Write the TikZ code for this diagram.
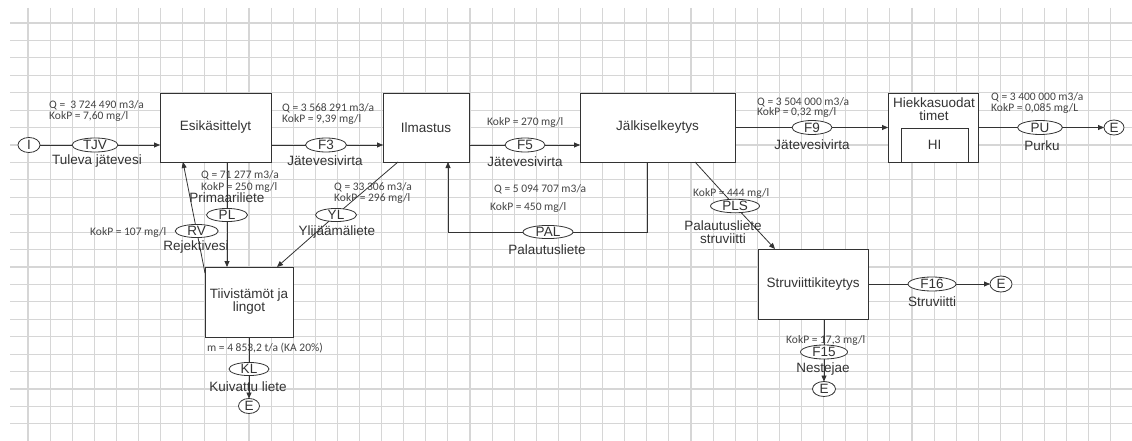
\documentclass[tikz,border=0pt]{standalone}
\usepackage{fontspec}
\setmainfont{Liberation Sans}
\newfontfamily\smallf{Carlito}
\usetikzlibrary{shapes.geometric,arrows.meta}
\definecolor{gridc}{HTML}{D6D6D6}
\definecolor{linec}{HTML}{333333}
\definecolor{textc}{HTML}{333333}
\definecolor{stextc}{HTML}{444444}
\tikzset{
  boxn/.style={draw=linec,line width=0.85pt,fill=white,inner sep=0pt,outer sep=0pt,
    font=\fontsize{13.5}{13.5}\selectfont,text=textc,align=center},
  oval/.style={ellipse,draw=linec,line width=0.8pt,fill=white,inner sep=0pt,outer sep=0pt,
    font=\fontsize{13.5}{13.5}\selectfont,text=textc},
  lab/.style={inner sep=0pt,font=\fontsize{13.5}{13.5}\selectfont,text=textc,align=center},
  slab/.style={inner sep=0pt,anchor=west,font=\smallf\fontsize{11.5}{11.5}\selectfont,text=stextc},
  conn/.style={draw=linec,line width=0.8pt},
  arr/.style={conn,-{Triangle[length=6pt,width=5pt]}},
}
\begin{document}
\begin{tikzpicture}[x=1pt,y=-1pt]
\useasboundingbox (0,0) rectangle (1132,441);
\fill[white] (0,0) rectangle (1132,441);
% grid
\foreach \k in {0,...,49} \draw[gridc,line width=1.1pt] ({28+22.1*\k},8) -- ({28+22.1*\k},441);
\foreach \k in {0,...,23} \draw[gridc,line width=1.1pt] (10,{23+17.43*\k}) -- (1132,{23+17.43*\k});

% boxes
\node[boxn,minimum width=111pt,minimum height=69pt] (esik) at (215.5,127.5) {Esikäsittelyt};
\node[boxn,minimum width=86pt,minimum height=69pt] (ilm) at (426,127.5) {Ilmastus};
\node[boxn,minimum width=155pt,minimum height=69pt] (jalk) at (657.5,127.5) {Jälkiselkeytys};
\node[boxn,minimum width=90pt,minimum height=69pt] (hiek) at (933,127.5) {};
\node[lab] (hiekt) at (934,109.5) {Hiekkasuodat\\[-0.5pt]timet};
\node[boxn,minimum width=67pt,minimum height=34pt] (hi) at (934.5,145) {HI};
\node[boxn,minimum width=88pt,minimum height=70pt] (tiiv) at (249,302) {Tiivistämöt ja\\[-0.5pt]lingot};
\node[boxn,minimum width=110pt,minimum height=70pt] (struv) at (813,284) {Struviittikiteytys};

% ovals
\node[oval,minimum width=22pt,minimum height=15pt] (I) at (29,145) {I};
\node[oval,minimum width=46pt,minimum height=14pt] (TJV) at (95,145) {TJV};
\node[oval,minimum width=41pt,minimum height=14pt] (F3) at (326,145) {F3};
\node[oval,minimum width=40pt,minimum height=14pt] (F5) at (525,145) {F5};
\node[oval,minimum width=40pt,minimum height=14pt] (F9) at (812,127.5) {F9};
\node[oval,minimum width=45pt,minimum height=14pt] (PU) at (1040,127.5) {PU};
\node[oval,minimum width=20pt,minimum height=15pt] (E1) at (1114,127.5) {E};
\node[oval,minimum width=41pt,minimum height=13pt] (PL) at (227,215) {PL};
\node[oval,minimum width=43pt,minimum height=12pt] (RV) at (196.7,231) {RV};
\node[oval,minimum width=41pt,minimum height=13pt] (YL) at (336,215) {YL};
\node[oval,minimum width=40pt,minimum height=13pt] (KL) at (249,369) {KL};
\node[oval,minimum width=21pt,minimum height=15pt] (E2) at (249,406) {E};
\node[oval,minimum width=50pt,minimum height=13pt] (PAL) at (548,232) {PAL};
\node[oval,minimum width=49pt,minimum height=13pt] (PLS) at (735,206) {PLS};
\node[oval,minimum width=48pt,minimum height=14pt] (F16) at (932,284) {F16};
\node[oval,minimum width=22pt,minimum height=16pt] (E3) at (1001,284) {E};
\node[oval,minimum width=47pt,minimum height=14pt] (F15) at (824,352) {F15};
\node[oval,minimum width=23pt,minimum height=15pt] (E4) at (824,389) {E};

% helper coordinates
\coordinate (rvA) at (205,273);
\coordinate (rvB) at (183,162);
\coordinate (ylA) at (398,162);
\coordinate (ylB) at (277,267);
\coordinate (plsA) at (695,162);
\coordinate (plsB) at (775,249);
\coordinate (palR) at (647,232);
\coordinate (palL) at (448,232);

% connectors
\draw[conn] (I) -- (TJV);
\draw[arr] (TJV) -- (TJV -| esik.west);
\draw[conn] (esik.east |- F3) -- (F3);
\draw[arr] (F3) -- (F3 -| ilm.west);
\draw[conn] (ilm.east |- F5) -- (F5);
\draw[arr] (F5) -- (F5 -| jalk.west);
\draw[conn] (jalk.east |- F9) -- (F9);
\draw[arr] (F9) -- (F9 -| hiek.west);
\draw[conn] (hiek.east |- PU) -- (PU);
\draw[arr] (PU) -- (E1);
\draw[conn] (PL |- esik.south) -- (PL);
\draw[arr] (PL) -- (PL |- tiiv.north);
\draw[conn] (rvA) -- (RV);
\draw[arr] (RV) -- (rvB);
\draw[conn] (ylA) -- (YL);
\draw[arr] (YL) -- (ylB);
\draw[conn] (KL |- tiiv.south) -- (KL);
\draw[arr] (KL) -- (E2);
\draw[conn] (palR |- jalk.south) -- (palR) -- (PAL);
\draw[arr] (PAL) -- (palL) -- (palL |- ilm.south);
\draw[conn] (plsA) -- (PLS);
\draw[arr] (PLS) -- (plsB);
\draw[conn] (struv.east |- F16) -- (F16);
\draw[arr] (F16) -- (E3);
\draw[conn] (F15 |- struv.south) -- (F15);
\draw[arr] (F15) -- (E4);

% main labels
\node[lab] (l1) at (97,161) {Tuleva jätevesi};
\node[lab] (l2) at (325,161) {Jätevesivirta};
\node[lab] (l3) at (525,162) {Jätevesivirta};
\node[lab] (l4) at (812,145) {Jätevesivirta};
\node[lab] (l5) at (1042,146) {Purku};
\node[lab] (l6) at (227,198) {Primaariliete};
\node[lab] (l7) at (196,247) {Rejektivesi};
\node[lab] (l8) at (337,232) {Ylijäämäliete};
\node[lab] (l9) at (248,387) {Kuivattu liete};
\node[lab] (l10) at (547,250) {Palautusliete};
\node[lab] (l11) at (723,232.5) {Palautusliete\\[-0.5pt]struviitti};
\node[lab] (l12) at (932,302) {Struviitti};
\node[lab] (l13) at (823,369) {Nestejae};

% small labels
\node[slab] (s1) at (49,105) {Q =\ \ 3 724 490 m3/a};
\node[slab] (s2) at (49,116) {KokP = 7,60 mg/l};
\node[slab] (s3) at (282,108) {Q = 3 568 291 m3/a};
\node[slab] (s4) at (282,119) {KokP = 9,39 mg/l};
\node[slab] (s5) at (487,122) {KokP = 270 mg/l};
\node[slab] (s6) at (757,102) {Q = 3 504 000 m3/a};
\node[slab] (s7) at (757,112) {KokP = 0,32 mg/l};
\node[slab] (s8) at (991,97) {Q = 3 400 000 m3/a};
\node[slab] (s9) at (991,108) {KokP = 0,085 mg/L};
\node[slab] (s10) at (201,175) {Q = 71 277 m3/a};
\node[slab] (s11) at (201,187) {KokP = 250 mg/l};
\node[slab] (s12) at (334,187) {Q = 33 306 m3/a};
\node[slab] (s13) at (334,198) {KokP = 296 mg/l};
\node[slab] (s14) at (90,232) {KokP = 107 mg/l};
\node[slab] (s15) at (207,348) {m = 4 853,2 t/a (KA 20\%)};
\node[slab] (s16) at (494,189) {Q = 5 094 707 m3/a};
\node[slab] (s17) at (490,207) {KokP = 450 mg/l};
\node[slab] (s18) at (693,193) {KokP = 444 mg/l};
\node[slab] (s19) at (786,340) {KokP = 17,3 mg/l};
\end{tikzpicture}
\end{document}
